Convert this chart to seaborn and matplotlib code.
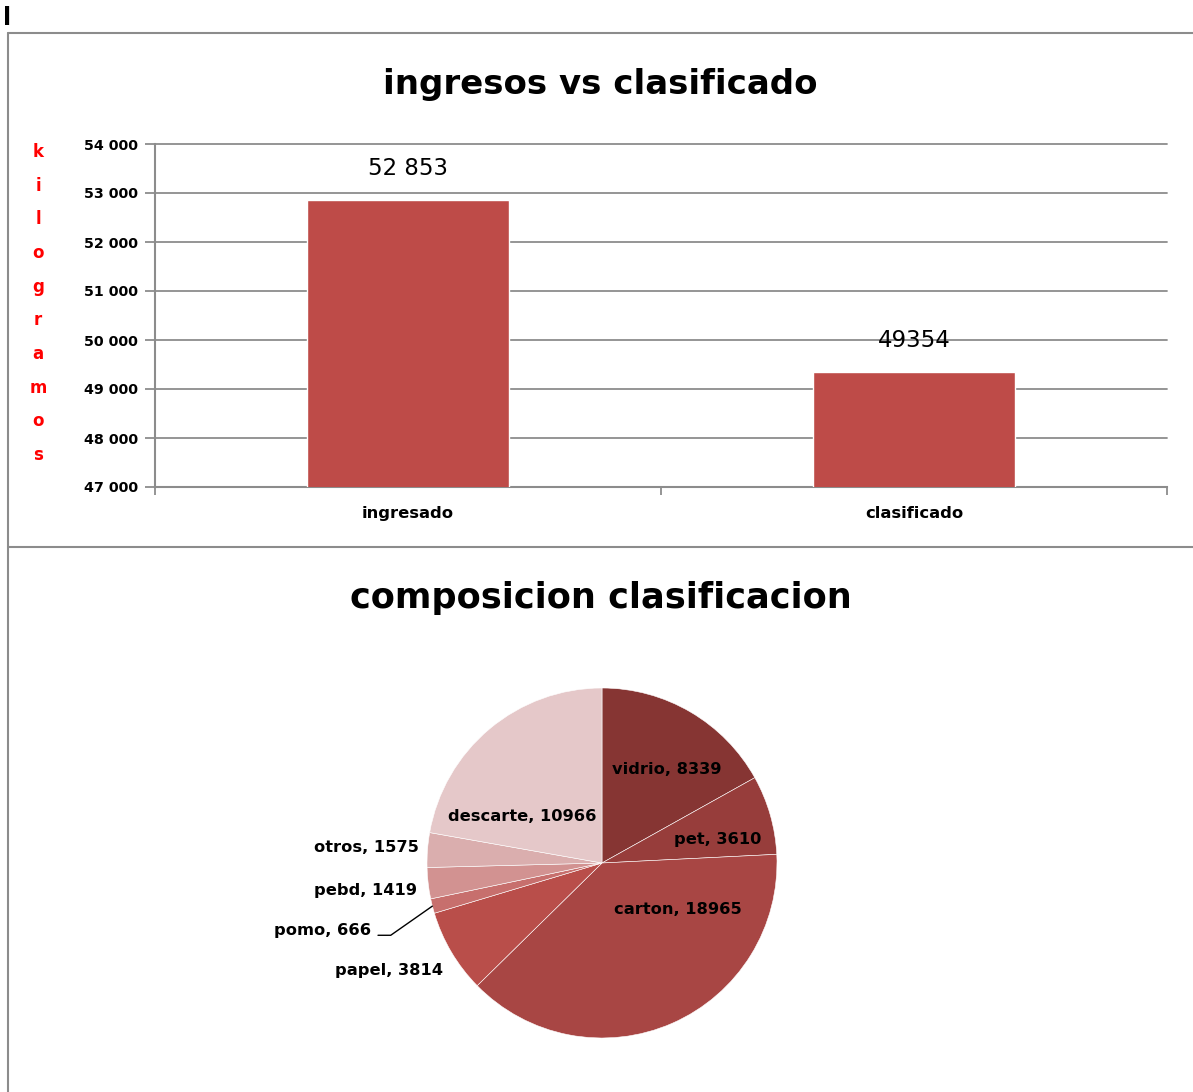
import numpy as np
import pandas as pd
import seaborn as sns
import matplotlib.pyplot as plt
from matplotlib.lines import Line2D
from matplotlib.ticker import FuncFormatter

# -------- DATA --------#
bar_categories = ['ingresado', 'clasificado']
bar_values = [52853, 49354]
bar_value_labels = ['52 853', '49354']

pie_categories = ['vidrio', 'pet', 'carton', 'papel', 'pomo', 'pebd', 'otros', 'descarte']
pie_values = [8339, 3610, 18965, 3814, 666, 1419, 1575, 10966]
pie_colors = ['#863533', '#973D3B', '#A84644', '#B94E4A', '#C76F6D',
              '#D29291', '#DAAEAE', '#E5C8C9']

ylabel_text = 'kilogramos'

sns.set_theme(style='white')
plt.rcParams['font.family'] = ['DejaVu Sans']
plt.rcParams['text.color'] = 'black'
plt.rcParams['xtick.color'] = 'black'
plt.rcParams['ytick.color'] = 'black'

W, H = 1193, 1092
fig = plt.figure(figsize=(W / 100, H / 100), dpi=100)


def fx(px):
    return px / W


def fy(py):
    return 1 - py / H


# -------- FRAME --------#
frame_color = '#8c8c8c'
fig.add_artist(Line2D([fx(8), 1], [fy(33), fy(33)], color=frame_color, lw=1.5))
fig.add_artist(Line2D([fx(8), fx(8)], [fy(33), 0], color=frame_color, lw=1.5))
fig.add_artist(Line2D([fx(8), 1], [fy(547), fy(547)], color=frame_color, lw=1.5))
fig.text(fx(7), fy(18), 'l', fontsize=17, fontweight='bold', ha='center', va='center', color='black')

# -------- BAR CHART --------#
ax = fig.add_axes([fx(155), fy(487), fx(1167) - fx(155), fy(144) - fy(487)])
df_bar = pd.DataFrame({'tipo': bar_categories, 'kg': bar_values})
sns.barplot(data=df_bar, x='tipo', y='kg', color='#BE4B48', saturation=1, width=0.4, ax=ax, zorder=3)
ax.set_ylim(47000, 54000)
ax.set_xlim(-0.5, 1.5)
ax.set_yticks(np.arange(47000, 54001, 1000))
ax.yaxis.set_major_formatter(FuncFormatter(lambda v, p: f'{int(v):,}'.replace(',', ' ')))
ax.grid(axis='y', color='#8c8c8c', lw=1.3, zorder=0)
ax.set_axisbelow(True)
for gl in ax.get_ygridlines():
    gl.set_clip_on(False)

ax.set_xticks([-0.5, 0.5, 1.5])
ax.set_xticklabels([])
ax.set_xticks([0, 1], minor=True)
ax.set_xticklabels(bar_categories, minor=True, fontsize=11.8, fontweight='bold')
ax.tick_params(axis='x', which='major', direction='out', length=6, color='#8c8c8c', width=1.3, bottom=True)
ax.tick_params(axis='x', which='minor', length=0, pad=14, labelcolor='black')
ax.tick_params(axis='y', direction='out', length=7, color='#8c8c8c', width=1.3, left=True, pad=5,
               labelcolor='black')
for lbl in ax.get_yticklabels():
    lbl.set_fontweight('bold')
    lbl.set_fontsize(10.3)
ax.set_xlabel('')
ax.set_ylabel('')
for s in ['top', 'right']:
    ax.spines[s].set_visible(False)
for s in ['left', 'bottom']:
    ax.spines[s].set_color('#8c8c8c')
    ax.spines[s].set_linewidth(1.5)

for i, (v, t) in enumerate(zip(bar_values, bar_value_labels)):
    ax.annotate(t, (i, v), xytext=(0, 22.5), textcoords='offset points',
                ha='center', va='center', fontsize=16.5)

fig.text(0.503, fy(85), 'ingresos vs clasificado', ha='center', va='center',
         fontsize=24.5, fontweight='bold')

# vertical red label, one letter per line
n = len(ylabel_text)
for i, ch in enumerate(ylabel_text):
    ypx = 152 + i * (455 - 152) / (n - 1)
    fig.text(fx(38), fy(ypx), ch, color='red', fontsize=12, fontweight='bold',
             ha='center', va='center')

# -------- PIE CHART --------#
fig.text(0.504, fy(598), 'composicion clasificacion', ha='center', va='center',
         fontsize=25.3, fontweight='bold')

cx, cy, R = 602, 863, 175
pax = fig.add_axes([fx(cx - R), fy(cy + R), 2 * R / W, 2 * R / H])
wedges, _ = pax.pie(pie_values, colors=pie_colors, startangle=90, counterclock=False,
                    radius=1, wedgeprops=dict(edgecolor='white', linewidth=0.4, alpha=1))
pax.set_xlim(-1, 1)
pax.set_ylim(-1, 1)
pax.set_aspect('equal')
pax.axis('off')

# label positions (in pie radius units) and alignment
label_pos = {
    'vidrio': (0.37, 0.537, 'center'),
    'pet': (0.663, 0.137, 'center'),
    'carton': (0.434, -0.263, 'center'),
    'papel': (-0.907, -0.617, 'right'),
    'pomo': (-1.32, -0.383, 'right'),
    'pebd': (-1.057, -0.16, 'right'),
    'otros': (-1.046, 0.086, 'right'),
    'descarte': (-0.457, 0.263, 'center'),
}
for w, name, val in zip(wedges, pie_categories, pie_values):
    x, y, ha = label_pos[name]
    txt = f'{name}, {val}'
    pax.text(x, y, txt, ha=ha, va='center', fontsize=11.7, fontweight='bold', clip_on=False)
    if name == 'pomo':
        # leader line from label to the wedge edge
        ang = np.deg2rad((w.theta1 + w.theta2) / 2)
        ex, ey = np.cos(ang), np.sin(ang)
        pax.annotate('', xy=(ex, ey), xytext=(x + 0.04, y - 0.03), annotation_clip=False,
                     arrowprops=dict(arrowstyle='-', color='black', lw=1,
                                     connectionstyle='angle,angleA=0,angleB=35,rad=0',
                                     shrinkA=0, shrinkB=0))

fig.savefig('out.png', dpi=100)
